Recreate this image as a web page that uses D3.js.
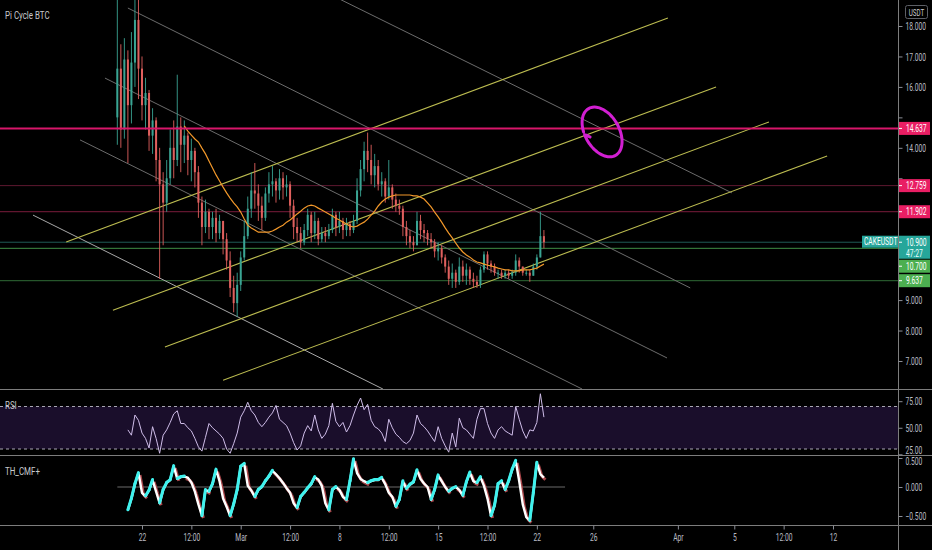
<!DOCTYPE html>
<html>
<head>
<meta charset="utf-8">
<script src="https://cdn.jsdelivr.net/npm/d3@7"></script>
<style>
html, body { margin: 0; padding: 0; background: #000; }
svg { display: block; }
text { font-family: Roboto, "DejaVu Sans", sans-serif; }
</style>
</head>
<body>
<div id="chart"></div>
<script>
// ---- data ----
const firstCandle = "2021-02-20T06:00"
const candleHours = 6
const firstOpen = 15.0

const closes = [16.6, 14.6, 16.9, 15.4, 16.8, 18.2, 16.6, 15.4, 15.8, 14.4,
  14.9, 13.6, 12.8, 12.2, 13.0, 14.0, 13.6, 14.7, 14.1, 14.4,
  13.6, 13.9, 13.2, 12.2, 11.4, 11.9, 11.4, 11.7, 11.2, 11.6,
  11.0, 10.3, 9.4, 8.9, 9.5, 10.4, 11.1, 12.0, 12.6, 12.5,
  12.1, 11.7, 12.5, 12.8, 12.9, 12.6, 13.0, 12.7, 12.8, 12.1,
  11.4, 11.2, 10.9, 11.3, 11.8, 11.2, 11.6, 11.0, 11.2, 11.1,
  11.3, 11.8, 11.4, 11.6, 11.3, 11.5, 11.3, 11.6, 12.6, 13.3,
  13.9, 13.6, 13.1, 13.4, 12.8, 12.9, 12.4, 12.7, 12.3, 12.1,
  12.0, 11.4, 11.1, 10.9, 10.8, 11.6, 11.3, 11.2, 11.0, 10.9,
  10.6, 10.7, 10.4, 10.1, 9.7, 9.9, 9.6, 10.1, 9.8, 10.0,
  9.7, 9.6, 9.5, 10.0, 10.5, 10.2, 10.1, 9.9, 9.9, 9.8,
  9.9, 9.8, 9.9, 10.3, 10.1, 9.9, 9.9, 9.8, 10.1, 10.4,
  11.1, 10.9]

const highs = [18.9, 17.4, 17.6, 17.2, 17.8, 18.9, 18.9, 17.0, 16.3, 15.9,
  15.3, 15.0, 14.0, 13.2, 13.6, 14.6, 14.9, 16.4, 15.0, 14.9,
  14.5, 14.3, 14.0, 13.4, 12.4, 12.3, 12.0, 11.9, 12.0, 11.8,
  11.6, 11.2, 10.6, 9.8, 9.9, 10.6, 11.6, 12.4, 13.2, 13.5,
  12.8, 12.4, 12.7, 13.2, 13.4, 13.0, 13.3, 13.2, 13.1, 12.9,
  12.3, 11.7, 11.4, 11.5, 12.0, 11.9, 11.9, 11.7, 11.4, 11.4,
  11.5, 12.0, 11.9, 11.9, 11.7, 11.7, 11.6, 11.8, 13.0, 13.6,
  14.2, 14.5, 14.1, 13.8, 13.6, 13.2, 13.0, 13.6, 12.8, 12.5,
  12.3, 12.1, 11.6, 11.3, 11.1, 11.9, 11.8, 11.5, 11.3, 11.2,
  11.0, 10.9, 10.8, 10.5, 10.3, 10.2, 10.0, 10.4, 10.3, 10.2,
  10.1, 9.9, 9.8, 10.1, 10.6, 10.6, 10.3, 10.2, 10.0, 10.0,
  10.0, 10.0, 10.0, 10.5, 10.4, 10.1, 10.0, 10.0, 10.2, 10.5,
  11.9, 11.3]

const lows = [14.1, 14.0, 14.3, 13.5, 14.8, 16.0, 15.6, 14.9, 14.6, 13.9,
  13.8, 12.9, 9.7, 10.8, 11.9, 12.8, 13.0, 13.4, 13.2, 13.5,
  13.1, 12.9, 12.7, 11.7, 10.8, 11.2, 11.0, 11.0, 10.9, 11.0,
  10.5, 10.0, 9.1, 8.6, 8.45, 9.3, 10.3, 11.0, 11.7, 12.0,
  11.6, 11.3, 11.6, 12.2, 12.4, 12.2, 12.3, 12.3, 12.4, 11.7,
  11.0, 10.9, 10.7, 10.8, 11.1, 10.9, 11.0, 10.8, 10.9, 10.9,
  11.0, 11.2, 11.1, 11.2, 11.0, 11.1, 11.1, 11.2, 11.5, 12.4,
  12.9, 13.2, 12.8, 12.7, 12.6, 12.4, 12.2, 12.3, 12.0, 11.9,
  11.8, 11.1, 10.8, 10.7, 10.6, 10.8, 11.0, 10.9, 10.8, 10.7,
  10.4, 10.3, 10.2, 9.9, 9.5, 9.4, 9.4, 9.5, 9.6, 9.5,
  9.5, 9.4, 9.4, 9.4, 9.9, 10.0, 9.9, 9.8, 9.7, 9.7,
  9.7, 9.7, 9.7, 9.8, 9.9, 9.8, 9.8, 9.6, 9.8, 10.0,
  10.4, 10.7]

// orange moving average, same candle times
const maValues = [null, null, null, null, null, null, null, null, null, null,
  null, null, null, null, null, null, null, null, null,
  14.72, 14.55, 14.42, 14.29, 14.19,
  13.99, 13.80, 13.57, 13.34, 13.11,
  12.91, 12.71, 12.52, 12.35, 12.19,
  12.06, 11.89, 11.66, 11.46, 11.37,
  11.30, 11.23, 11.23, 11.23, 11.23,
  11.27, 11.33, 11.40, 11.46, 11.56,
  11.63, 11.73, 11.83, 11.92, 12.02,
  12.09, 12.12, 12.09, 12.02, 11.96,
  11.89, 11.83, 11.76, 11.69, 11.63,
  11.56, 11.50, 11.43, 11.40, 11.43,
  11.50, 11.56, 11.66, 11.79, 11.92,
  12.09, 12.22, 12.32, 12.38, 12.42,
  12.45, 12.45, 12.45, 12.45, 12.45,
  12.42, 12.42, 12.38, 12.32, 12.19,
  12.06, 11.89, 11.73, 11.56, 11.37,
  11.20, 11.04, 10.87, 10.71, 10.58,
  10.48, 10.41, 10.32, 10.25, 10.22,
  10.18, 10.15, 10.12, 10.09, 10.05,
  10.02, 9.99, 9.99, 9.96, 9.96,
  9.96, 9.99, 9.99, 9.99, 10.02,
  10.05, 10.12, 10.18]

const rsiValues = [null, null, null,
  48, 43, 62, 57, 45, 40, 31, 51, 40, 26,
  43, 48, 55, 63, 66, 54, 54, 50, 47, 40,
  32, 28, 41, 54, 50, 47, 44, 40, 30, 26,
  35, 45, 60, 66, 74, 66, 62, 55, 51, 55,
  60, 64, 71, 58, 55, 52, 45, 36, 29, 33,
  45, 52, 47, 62, 48, 40, 44, 52, 73, 56,
  51, 55, 46, 52, 62, 71, 78, 67, 72, 57,
  51, 49, 45, 37, 58, 50, 44, 41, 37, 35,
  38, 45, 62, 54, 51, 47, 42, 37, 51, 40,
  33, 27, 45, 32, 59, 50, 48, 44, 40, 58,
  68, 68, 54, 45, 40, 48, 51, 47, 45, 43,
  70, 58, 47, 40, 48, 47, 55, 82, 60]

const cmfValues = [null, null, null,
  -0.40, -0.20, 0.05, 0.24, -0.10, -0.16, -0.06, 0.12, -0.08, -0.28,
  -0.05, 0.07, 0.12, 0.36, 0.14, 0.17, 0.18, 0.16, 0.08, -0.08,
  -0.30, -0.50, -0.05, -0.08, 0.05, 0.30, 0.10, -0.20, -0.34, -0.50,
  -0.30, -0.05, 0.35, 0.40, 0.02, -0.06, -0.17, -0.05, 0.00, 0.10,
  0.18, 0.28, 0.22, 0.15, 0.07, -0.02, -0.10, -0.28, -0.36, -0.17,
  -0.10, -0.02, 0.05, 0.17, 0.13, 0.02, -0.28, -0.40, -0.05, 0.00,
  -0.05, -0.17, -0.22, 0.10, 0.48, 0.24, 0.14, 0.10, 0.07, 0.10,
  0.12, 0.12, 0.16, 0.05, -0.10, -0.17, -0.34, -0.22, 0.10, -0.03,
  0.04, 0.08, 0.29, 0.14, 0.06, 0.00, -0.22, -0.05, 0.20, 0.10,
  0.00, -0.08, -0.03, 0.00, -0.05, -0.15, 0.08, 0.25, 0.10, 0.07,
  0.17, 0.02, -0.20, -0.50, -0.32, 0.05, 0.10, -0.05, 0.10, 0.30,
  0.45, 0.10, -0.30, -0.52, -0.58, -0.10, 0.42, 0.22, 0.16]

// horizontal levels
const resistanceLevels = [14.637, 12.759, 11.902]
const supportLevels = [10.700, 9.637]
const lastPrice = 10.900
const symbol = "CAKEUSDT"
const countdown = "47:27"

// drawn trend lines: [start time, start price, end time, end price]
const risingLines = [
  ["2021-02-16T15:00", 10.91, "2021-03-31T07:00", 18.26],
  ["2021-02-19T22:30", 8.67, "2021-04-03T17:00", 16.00],
  ["2021-02-23T15:00", 7.46, "2021-04-07T11:00", 14.85],
  ["2021-02-27T18:00", 6.37, "2021-04-11T14:00", 13.73]
]
const fallingLines = [
  ["2021-03-06T23:30", 19.12, "2021-04-04T20:00", 12.52],
  ["2021-02-21T00:00", 18.59, "2021-04-01T21:00", 9.40],
  ["2021-02-19T09:00", 16.29, "2021-03-31T05:30", 7.10],
  ["2021-02-17T14:30", 14.26, "2021-03-25T05:00", 6.08]
]
const lightFallingLine = ["2021-02-14T06:30", 11.79, "2021-03-11T02:00", 6.08]
const circleMark = ["2021-03-26T15:00", 14.52]
const cmfZeroSpan = ["2021-02-20T06:00", "2021-03-24T00:00"]

const priceTicks = [7, 8, 9, 10, 11, 12, 13, 14, 15, 16, 17, 18]
const rsiTicks = [25, 50, 75]
const rsiBands = [70, 30]
const cmfTicks = [-0.5, 0, 0.5]
const timeTicks = ["2021-02-22T00:00", "2021-02-25T12:00", "2021-03-01T00:00", "2021-03-04T12:00",
  "2021-03-08T00:00", "2021-03-11T12:00", "2021-03-15T00:00", "2021-03-18T12:00",
  "2021-03-22T00:00", "2021-03-26T00:00", "2021-04-01T00:00", "2021-04-05T00:00",
  "2021-04-08T12:00", "2021-04-12T00:00"]
const timeTickLabels = ["22", "12:00", "Mar", "12:00", "8", "12:00", "15", "12:00",
  "22", "26", "Apr", "5", "12:00", "12"]

// ---- drawing ----
const W = 932, H = 550, axisX = 898
const parse = d3.utcParse("%Y-%m-%dT%H:%M")

const candles = closes.map((c, i) => ({
  t: d3.utcHour.offset(parse(firstCandle), i * candleHours),
  o: i === 0 ? firstOpen : closes[i - 1],
  h: highs[i], l: lows[i], c: c,
  ma: maValues[i], rsi: rsiValues[i], cmf: cmfValues[i]
}))

const x = d3.scaleUtc()
  .domain([parse("2021-02-22T00:00"), parse("2021-04-12T00:00")])
  .range([142, 833])
const y = d3.scaleLinear().domain([7, 18]).range([361, 26])
const yRsi = d3.scaleLinear().domain([30, 70]).range([449, 406.5])
const yCmf = d3.scaleLinear().domain([-0.5, 0]).range([516, 487])

const svg = d3.select('#chart')
  .append('svg')
  .attr('width', W)
  .attr('height', H)
  .style('background', '#000')

const defs = svg.append('defs')
function clip(id, y0, y1) {
  defs.append('clipPath').attr('id', id)
    .append('rect').attr('x', 0).attr('y', y0).attr('width', axisX).attr('height', y1 - y0)
}
clip('cPrice', 0, 389)
clip('cRsi', 390, 455)
clip('cCmf', 456, 525)

// narrow text like the squeezed screenshot
function label(g, px, py, str, size, fill, anchor, sx) {
  return g.append('text')
    .attr('transform', `translate(${px},${py}) scale(${sx || 0.66},1)`)
    .attr('text-anchor', anchor || 'start')
    .attr('font-size', size)
    .attr('fill', fill)
    .text(str)
}

// ---------- price pane ----------
const gp = svg.append('g').attr('clip-path', 'url(#cPrice)')

function hline(g, yy, color, w) {
  g.append('line').attr('x1', 0).attr('x2', axisX).attr('y1', yy).attr('y2', yy)
    .attr('stroke', color).attr('stroke-width', w)
}
hline(gp, y(resistanceLevels[1]), '#5e1830', 1)
hline(gp, y(resistanceLevels[2]), '#7a1c3c', 1)
hline(gp, y(lastPrice), '#1f5a55', 1)
hline(gp, y(supportLevels[0]), '#3f8f45', 1)
hline(gp, y(supportLevels[1]), '#2f6a35', 1)

function seg(g, d, color, w) {
  g.append('line')
    .attr('x1', x(parse(d[0]))).attr('y1', y(d[1]))
    .attr('x2', x(parse(d[2]))).attr('y2', y(d[3]))
    .attr('stroke', color).attr('stroke-width', w || 1)
}
fallingLines.forEach(d => seg(gp, d, '#6c6c6c', 1))
seg(gp, lightFallingLine, '#a8a8a8', 1)
risingLines.forEach(d => seg(gp, d, '#bcbc50', 1.1))

// candles
const upCol = '#3aa493', downCol = '#e0605e'
const cg = gp.append('g')
cg.selectAll('line.wick').data(candles).join('line')
  .attr('class', 'wick')
  .attr('x1', d => x(d.t)).attr('x2', d => x(d.t))
  .attr('y1', d => y(d.h)).attr('y2', d => y(d.l))
  .attr('stroke', d => d.c >= d.o ? upCol : downCol)
  .attr('stroke-width', 0.9)
cg.selectAll('rect.body').data(candles).join('rect')
  .attr('class', 'body')
  .attr('x', d => x(d.t) - 1)
  .attr('width', 2)
  .attr('y', d => y(Math.max(d.o, d.c)))
  .attr('height', d => Math.max(1, Math.abs(y(d.o) - y(d.c))))
  .attr('fill', d => d.c >= d.o ? upCol : downCol)

// moving average
gp.append('path')
  .datum(candles)
  .attr('fill', 'none')
  .attr('stroke', '#f2982a')
  .attr('stroke-width', 1.2)
  .attr('d', d3.line().defined(d => d.ma != null).x(d => x(d.t)).y(d => y(d.ma)))

hline(gp, y(resistanceLevels[0]), '#d8166a', 2)

// hand drawn circle
const cx = x(parse(circleMark[0])), cy = y(circleMark[1])
const rot = -30 * Math.PI / 180
const ellipsePts = d3.range(200, 555, 6).map(a => {
  const t = a * Math.PI / 180
  const ex = 17 * Math.cos(t), ey = 27 * Math.sin(t)
  return [cx + ex * Math.cos(rot) - ey * Math.sin(rot), cy + ex * Math.sin(rot) + ey * Math.cos(rot)]
})
ellipsePts.push([cx - 12, cy + 5])
gp.append('path')
  .attr('d', d3.line().curve(d3.curveCatmullRom)(ellipsePts))
  .attr('fill', 'none')
  .attr('stroke', '#d21fd2')
  .attr('stroke-width', 3)
  .attr('stroke-linecap', 'round')

label(svg, 5, 19, 'Pi Cycle BTC', 11, '#c8c9cc', 'start', 0.72)

// ---------- RSI pane ----------
const gr = svg.append('g').attr('clip-path', 'url(#cRsi)')
gr.append('rect')
  .attr('x', 0).attr('width', axisX)
  .attr('y', yRsi(rsiBands[0])).attr('height', yRsi(rsiBands[1]) - yRsi(rsiBands[0]))
  .attr('fill', '#1a0e2b')
rsiBands.forEach(v => {
  gr.append('line').attr('x1', 0).attr('x2', axisX).attr('y1', yRsi(v)).attr('y2', yRsi(v))
    .attr('stroke', '#a9a7b3').attr('stroke-dasharray', '3,3')
})
gr.append('path')
  .datum(candles)
  .attr('fill', 'none')
  .attr('stroke', '#cfbde9')
  .attr('stroke-width', 1)
  .attr('d', d3.line().defined(d => d.rsi != null).x(d => x(d.t)).y(d => yRsi(d.rsi)))
label(svg, 5, 409, 'RSI', 11, '#c8c9cc', 'start', 0.72)

// ---------- CMF pane ----------
const gc = svg.append('g').attr('clip-path', 'url(#cCmf)')
gc.append('line')
  .attr('x1', x(parse(cmfZeroSpan[0]))).attr('x2', x(parse(cmfZeroSpan[1])))
  .attr('y1', yCmf(0)).attr('y2', yCmf(0))
  .attr('stroke', '#6a6a6a')
const cmfPts = candles.filter(d => d.cmf != null)
const pairs = d3.pairs(cmfPts)
gc.selectAll('line.red').data(pairs.filter(p => p[1].cmf < p[0].cmf)).join('line')
  .attr('class', 'red')
  .attr('x1', p => x(p[0].t) + 1.5).attr('y1', p => yCmf(p[0].cmf) + 2)
  .attr('x2', p => x(p[1].t) + 1.5).attr('y2', p => yCmf(p[1].cmf) + 2)
  .attr('stroke', '#a8464a').attr('stroke-width', 3)
gc.append('path')
  .datum(cmfPts)
  .attr('fill', 'none')
  .attr('stroke', '#ffffff')
  .attr('stroke-width', 2.4)
  .attr('stroke-linejoin', 'round')
  .attr('d', d3.line().x(d => x(d.t)).y(d => yCmf(d.cmf)))
gc.selectAll('line.up').data(pairs.filter(p => p[1].cmf >= p[0].cmf)).join('line')
  .attr('class', 'up')
  .attr('x1', p => x(p[0].t)).attr('y1', p => yCmf(p[0].cmf) - 0.5)
  .attr('x2', p => x(p[1].t)).attr('y2', p => yCmf(p[1].cmf) - 0.5)
  .attr('stroke', '#3ff2ee').attr('stroke-width', 3).attr('stroke-linecap', 'round')
label(svg, 5, 475, 'TH_CMF+', 11, '#c8c9cc', 'start', 0.72)

// ---------- frames ----------
;[389.5, 455.5, 525.5].forEach(v => {
  svg.append('line').attr('x1', 0).attr('x2', W).attr('y1', v).attr('y2', v)
    .attr('stroke', '#7d7d7d')
})
svg.append('line').attr('x1', axisX + 0.5).attr('x2', axisX + 0.5).attr('y1', 0).attr('y2', H)
  .attr('stroke', '#7d7d7d')

// price tags, stacked so they do not overlap
const boxH = 13
const tags = [
  ...resistanceLevels.map(v => ({ v, fill: '#e91e63', text: d3.format('.3f')(v), h: boxH })),
  { v: lastPrice, fill: '#26a69a', text: d3.format('.3f')(lastPrice), h: 23, sym: true },
  ...supportLevels.map(v => ({ v, fill: '#4caf50', text: d3.format('.3f')(v), h: boxH }))
].sort((a, b) => y(a.v) - y(b.v))
let bottom = -Infinity
tags.forEach(tg => {
  let top = y(tg.v) - 6.5
  if (top < bottom + 1) top = bottom + 1
  tg.top = top
  bottom = top + tg.h
})

// ---------- right axes ----------
// labels are kept inside their own pane; hidden where a price tag covers them
function rightAxis(scale, ticks, fmt, y0, y1, covered) {
  const g = svg.append('g')
    .attr('transform', `translate(${axisX + 0.5},0)`)
    .call(d3.axisRight(scale).tickValues(ticks).tickFormat(fmt).tickSize(4))
  g.select('.domain').remove()
  g.selectAll('line').attr('stroke', '#8a8d96')
  g.selectAll('.tick')
    .filter(d => covered && covered(scale(d)))
    .select('text').remove()
  g.selectAll('text')
    .attr('x', 0).attr('dy', '0.35em')
    .attr('transform', d => {
      const yy = scale(d)
      const shift = Math.max(y0 + 5 - yy, Math.min(0, y1 - 5 - yy))
      return `translate(7,${shift}) scale(0.64,1)`
    })
    .attr('font-size', 10.5)
    .attr('font-family', 'Roboto, sans-serif')
    .attr('fill', '#b9bcc4')
  return g
}
const coveredByTag = yy => tags.some(tg => yy > tg.top - 5 && yy < tg.top + tg.h + 5)
rightAxis(y, priceTicks, d3.format('.3f'), 0, 389, coveredByTag)
rightAxis(yRsi, rsiTicks, d3.format('.2f'), 390, 455)
rightAxis(yCmf, cmfTicks, d3.format('.3f'), 456, 525)

// USDT box
svg.append('rect').attr('x', 905.5).attr('y', 5.5).attr('width', 22).attr('height', 13).attr('rx', 2)
  .attr('fill', '#000').attr('stroke', '#5d5f66')
label(svg, 916.5, 15.5, 'USDT', 9.5, '#c8c9cc', 'middle', 0.66)

tags.forEach(tg => {
  if (tg.sym) {
    svg.append('rect').attr('x', 862).attr('y', tg.top).attr('width', axisX - 862).attr('height', 12)
      .attr('fill', tg.fill)
    label(svg, 864, tg.top + 9.5, symbol, 10.5, '#ffffff', 'start', 0.64)
  }
  svg.append('rect').attr('x', axisX + 1).attr('y', tg.top).attr('width', 31).attr('height', tg.h)
    .attr('fill', tg.fill)
  svg.append('line').attr('x1', axisX + 1).attr('x2', axisX + 4)
    .attr('y1', tg.top + 6.5).attr('y2', tg.top + 6.5).attr('stroke', '#fff')
  label(svg, 906, tg.top + 10, tg.text, 10.5, '#ffffff', 'start', 0.64)
  if (tg.sym) label(svg, 906, tg.top + 21, countdown, 10.5, '#e8fffb', 'start', 0.64)
})

// ---------- time axis ----------
const gx = svg.append('g')
  .attr('transform', 'translate(0,525.5)')
  .call(d3.axisBottom(x)
    .tickValues(timeTicks.map(parse))
    .tickFormat((d, i) => timeTickLabels[i])
    .tickSize(4))
gx.select('.domain').remove()
gx.selectAll('line').attr('stroke', '#8a8d96')
gx.selectAll('text')
  .attr('y', 0).attr('dy', 0)
  .attr('transform', 'translate(0,15.5) scale(0.64,1)')
  .attr('font-size', 10.5)
  .attr('font-family', 'Roboto, sans-serif')
  .attr('fill', '#b9bcc4')
</script>
</body>
</html>
